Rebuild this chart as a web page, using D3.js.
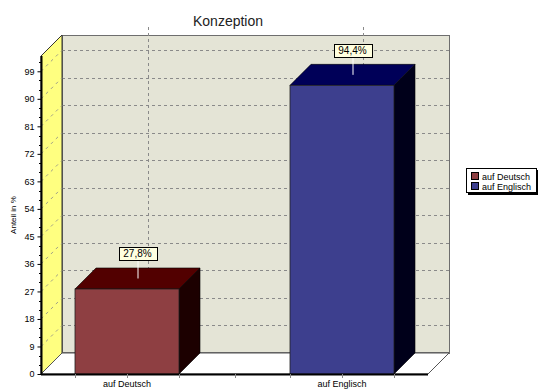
<!DOCTYPE html>
<html>
<head>
<meta charset="utf-8">
<script src="https://cdn.jsdelivr.net/npm/d3@7"></script>
<style>
  body { margin: 0; background: #fff; }
  svg { display: block; font-family: "Liberation Sans", Arial, sans-serif; }
</style>
</head>
<body>
<div id="chart"></div>
<script>
const categories = ["auf Deutsch", "auf Englisch"];
const values = [27.8, 94.4];
const valueLabels = ["27,8%", "94,4%"];
const yTicks = [0, 9, 18, 27, 36, 45, 54, 63, 72, 81, 90, 99];
const frontColours = ["#8e3f42", "#3d3f8e"];
const topColours = ["#520000", "#000058"];
const sideColours = ["#1c0000", "#00001a"];

const W = 541, H = 389;
const plotLeft = 41, plotRight = 428, plotBottom = 374, plotTop = 56;
const depth = 21;
const barHalf = 52;

const svg = d3.select("#chart").append("svg")
    .attr("width", W)
    .attr("height", H);

const x = d3.scalePoint()
    .domain(categories)
    .range([plotLeft, plotRight])
    .padding(0.4);

const y = d3.scaleLinear()
    .domain([0, 104])
    .range([plotBottom, plotTop]);

const line = d3.line();

// back wall
svg.append("rect")
    .attr("x", plotLeft + depth + 0.5)
    .attr("y", plotTop - depth + 0.5)
    .attr("width", plotRight - plotLeft)
    .attr("height", plotBottom - plotTop)
    .attr("fill", "#e4e4d6")
    .attr("stroke", "#6e6e6e")
    .attr("stroke-width", 1);

// horizontal grid on back wall
svg.append("g").selectAll("line")
    .data(yTicks.filter(d => d > 0))
    .join("line")
    .attr("x1", plotLeft + depth)
    .attr("x2", plotRight + depth)
    .attr("y1", d => Math.round(y(d)) - depth + 0.5)
    .attr("y2", d => Math.round(y(d)) - depth + 0.5)
    .attr("stroke", "#8a8a8a")
    .attr("stroke-dasharray", "3,3");

// vertical grid on back wall
svg.append("g").selectAll("line")
    .data(categories)
    .join("line")
    .attr("x1", d => Math.round(x(d)) + depth + 0.5)
    .attr("x2", d => Math.round(x(d)) + depth + 0.5)
    .attr("y1", plotTop - depth - 8)
    .attr("y2", plotBottom - depth)
    .attr("stroke", "#8a8a8a")
    .attr("stroke-dasharray", "3,3");

// back wall bottom edge
svg.append("line")
    .attr("x1", plotLeft + depth).attr("x2", plotRight + depth)
    .attr("y1", plotBottom - depth).attr("y2", plotBottom - depth)
    .attr("stroke", "#707070").attr("stroke-width", 2);

// left wall
svg.append("path")
    .attr("d", line([[plotLeft, plotBottom], [plotLeft, plotTop], [plotLeft + depth, plotTop - depth], [plotLeft + depth, plotBottom - depth]]) + "Z")
    .attr("fill", "#ffff80")
    .attr("stroke", "#333")
    .attr("stroke-width", 1);

svg.append("g").selectAll("line")
    .data(yTicks.filter(d => d > 0))
    .join("line")
    .attr("x1", plotLeft)
    .attr("x2", plotLeft + depth)
    .attr("y1", d => y(d))
    .attr("y2", d => y(d) - depth)
    .attr("stroke", "#a0a088")
    .attr("stroke-dasharray", "3,4");

// floor
svg.append("path")
    .attr("d", line([[plotLeft, plotBottom], [plotLeft + depth, plotBottom - depth], [plotRight + depth, plotBottom - depth], [plotRight, plotBottom]]) + "Z")
    .attr("fill", "#fff")
    .attr("stroke", "#555")
    .attr("stroke-width", 1);

// bars
const bars = svg.append("g").selectAll("g")
    .data(categories)
    .join("g");

bars.append("path")
    .attr("d", (d, i) => {
        const x1 = x(d) + barHalf, y0 = y(0), y1 = y(values[i]);
        return line([[x1, y0], [x1, y1], [x1 + depth, y1 - depth], [x1 + depth, y0 - depth]]) + "Z";
    })
    .attr("fill", (d, i) => sideColours[i])
    .attr("stroke", "#000")
    .attr("stroke-width", 0.6);

bars.append("path")
    .attr("d", (d, i) => {
        const x0 = x(d) - barHalf, x1 = x(d) + barHalf, y1 = y(values[i]);
        return line([[x0, y1], [x0 + depth, y1 - depth], [x1 + depth, y1 - depth], [x1, y1]]) + "Z";
    })
    .attr("fill", (d, i) => topColours[i])
    .attr("stroke", "#000")
    .attr("stroke-width", 0.6);

bars.append("rect")
    .attr("x", d => x(d) - barHalf)
    .attr("y", (d, i) => y(values[i]))
    .attr("width", barHalf * 2)
    .attr("height", (d, i) => y(0) - y(values[i]))
    .attr("fill", (d, i) => frontColours[i])
    .attr("stroke", "#222")
    .attr("stroke-width", 0.8);

// value labels
bars.each(function(d, i) {
    const g = d3.select(this);
    const cx = x(d) + depth / 2;
    const cy = y(values[i]) - depth / 2;
    const bw = 38, bh = 13;
    g.append("line")
        .attr("x1", cx + 0.5).attr("x2", cx + 0.5)
        .attr("y1", cy - 18).attr("y2", cy)
        .attr("stroke", "#fff")
        .attr("stroke-width", 1);
    g.append("rect")
        .attr("x", Math.round(cx - bw / 2) + 0.5)
        .attr("y", Math.round(cy - 18 - bh) + 0.5)
        .attr("width", bw)
        .attr("height", bh)
        .attr("fill", "#ffffe0")
        .attr("stroke", "#000");
    g.append("text")
        .attr("x", cx)
        .attr("y", cy - 18 - 3)
        .attr("text-anchor", "middle")
        .style("font-size", "10px")
        .style("fill", "#000")
        .text(valueLabels[i]);
});

// y axis
const yAxisGroup = svg.append("g")
    .attr("transform", `translate(${plotLeft + 0.5},0)`)
    .call(d3.axisLeft(y).tickValues(yTicks).tickSize(4).tickPadding(3));

yAxisGroup.select(".domain").remove();
yAxisGroup.selectAll("text")
    .style("font-family", "'Liberation Sans', Arial, sans-serif")
    .style("font-size", "9px")
    .style("fill", "#000");
yAxisGroup.selectAll("line").attr("stroke", "#000");

svg.append("g").selectAll("line")
    .data(d3.range(0, 103, 3).filter(d => d % 9 !== 0))
    .join("line")
    .attr("x1", plotLeft - 2)
    .attr("x2", plotLeft)
    .attr("y1", d => Math.round(y(d)) + 0.5)
    .attr("y2", d => Math.round(y(d)) + 0.5)
    .attr("stroke", "#000");

svg.append("line")
    .attr("x1", plotLeft + 0.5).attr("x2", plotLeft + 0.5)
    .attr("y1", plotTop).attr("y2", plotBottom)
    .attr("stroke", "#000")
    .attr("stroke-width", 2);

svg.append("text")
    .attr("transform", `translate(16,${(plotTop + plotBottom) / 2}) rotate(-90)`)
    .attr("text-anchor", "middle")
    .style("font-size", "8px")
    .style("fill", "#000")
    .text("Anteil in %");

// x axis
svg.append("line")
    .attr("x1", plotLeft).attr("x2", plotRight)
    .attr("y1", plotBottom + 0.5).attr("y2", plotBottom + 0.5)
    .attr("stroke", "#000")
    .attr("stroke-width", 2);

const xTickPos = [];
categories.forEach(c => xTickPos.push(x(c) - barHalf, x(c), x(c) + barHalf));
xTickPos.push((x(categories[0]) + x(categories[1])) / 2);

svg.append("g").selectAll("line")
    .data(xTickPos)
    .join("line")
    .attr("x1", d => Math.round(d) + 0.5)
    .attr("x2", d => Math.round(d) + 0.5)
    .attr("y1", plotBottom)
    .attr("y2", plotBottom + 4)
    .attr("stroke", "#888");

svg.append("g").selectAll("text")
    .data(categories)
    .join("text")
    .attr("x", d => x(d))
    .attr("y", 387)
    .attr("text-anchor", "middle")
    .style("font-size", "9px")
    .style("fill", "#000")
    .text(d => d);

// title
svg.append("text")
    .attr("x", 228)
    .attr("y", 26)
    .attr("text-anchor", "middle")
    .style("font-size", "14px")
    .style("fill", "#222")
    .text("Konzeption");

// legend
const legend = svg.append("g")
    .attr("transform", "translate(466,168)");

legend.append("rect")
    .attr("x", 2).attr("y", 2)
    .attr("width", 70).attr("height", 25)
    .attr("fill", "#000");

legend.append("rect")
    .attr("x", 0.5).attr("y", 0.5)
    .attr("width", 70).attr("height", 24)
    .attr("fill", "#fff")
    .attr("stroke", "#000");

const legendItems = legend.selectAll("g")
    .data(categories)
    .join("g")
    .attr("transform", (d, i) => `translate(5,${4 + i * 10})`);

legendItems.append("rect")
    .attr("x", 0.5).attr("y", 0.5)
    .attr("width", 7).attr("height", 7)
    .attr("fill", (d, i) => frontColours[i])
    .attr("stroke", "#000");

legendItems.append("text")
    .attr("x", 11)
    .attr("y", 7.5)
    .style("font-size", "9px")
    .style("fill", "#000")
    .text(d => d);
</script>
</body>
</html>
